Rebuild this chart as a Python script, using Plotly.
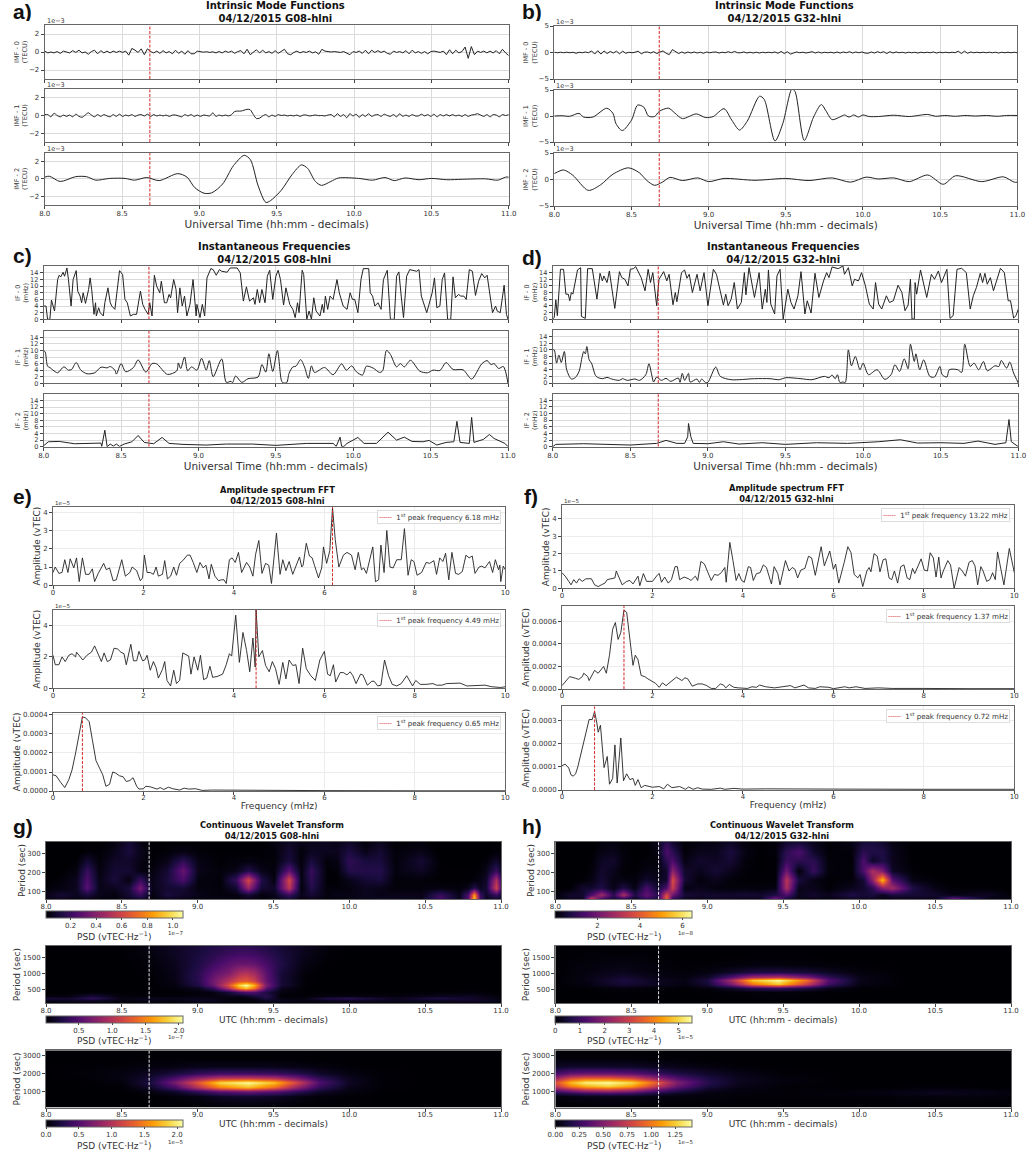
import plotly.graph_objects as go
import numpy as np

W, H = 1029, 1153
FONT = "DejaVu Sans"
EVENT_T = 8.68

# ---------- data ----------
time_ticks = [8.0, 8.5, 9.0, 9.5, 10.0, 10.5, 11.0]

# IMF values, unit 1e-3 TECU. imf0 rows: ten samples per 0.2 h.
a_imf0 = [.1,-.1,0,-.1,.05,-.15,.1,0,-.1,.15, -.05,.2,-.1,0,-.25,.05,.2,-.2,.15,-.1,
          .1,-.1,.1,-.05,.1,-.05,.1,-.35,.4,.2, -.05,.35,-.3,.35,.05,-.1,.1,-.15,.15,-.1,
          .05,-.2,.2,-.15,.1,-.25,.15,-.2,-.2,.1, .05,-.02,.03,-.05,.02,-.1,.05,-.1,.1,-.05,
          .1,-.15,.05,.15,-.2,.3,-.3,-.05,.25,-.1, .2,-.1,.05,-.15,.15,-.15,.1,.3,-.2,-.3,
          -.05,.1,-.1,.05,-.05,.1,-.1,.02,-.25,.3, .1,.05,0,.05,-.02,-.05,.05,-.1,-.3,.05,
          -.05,.1,-.15,.2,-.2,.2,-.05,.15,-.05,.1, -.15,-.25,.1,-.05,.05,-.1,.15,-.2,.2,-.1,
          .05,-.15,.05,-.2,.05,.1,0,-.05,.1,-.3, .25,-.2,.2,-.1,.05,.55,-.7,.6,-.3,.1,
          -.05,.1,-.1,.1,-.1,.15,-.2,.3,-.1,-.4]
a_imf1 = [.1,.1,-.15,.25,0,-.15,.05,-.1,.05,-.15, .15,-.1,-.2,.05,.3,.05,-.15,.1,-.1,.1,
          -.05,-.15,.1,-.1,.15,-.1,.05,-.05,.1,-.1, .05,.1,-.05,.15,-.1,.1,-.05,.05,-.05,.05,
          -.1,.05,.05,-.05,-.15,.1,-.05,.1,-.1,.05, -.1,.05,0,-.05,.3,-.1,.05,-.05,.05,-.05,
          .1,.45,.5,.5,.6,.7,.65,.1,-.35,-.3, -.05,.1,-.15,.05,-.1,.1,0,.05,-.05,.02,
          -.05,.05,-.1,.05,.05,-.05,0,.05,-.02,0, -.05,.05,.1,-.15,.2,-.1,.1,-.25,.2,-.05,
          .15,-.2,.1,-.1,.2,-.1,.05,.1,-.1,.15, 0,-.1,.1,-.15,.2,-.1,.05,-.1,.1,-.05,
          -.05,.15,-.05,.1,-.1,.15,-.15,.1,-.05,.1, -.05,.1,-.05,.05,-.1,.1,-.1,.05,.1,.2,
          .05,-.1,.1,-.15,.1,.05,-.15,.1,0,.1]
a_imf2 = [(8,.2),(8.03,.3),(8.1,-.3),(8.2,.25),(8.27,.25),(8.33,-.15),(8.42,.05),(8.52,.05),(8.58,-.15),
          (8.66,.15),(8.74,-.2),(8.86,.6),(8.92,.2),(8.97,-1.0),(9.03,-1.65),(9.08,-1.6),(9.15,-.6),(9.22,1.5),
          (9.29,2.7),(9.33,2.2),(9.38,-.8),(9.43,-2.7),(9.46,-2.5),(9.53,-1.3),(9.6,.5),(9.66,1.6),(9.7,1.2),
          (9.75,-.3),(9.79,-.75),(9.85,-.3),(9.9,.1),(10.03,.05),(10.12,-.15),(10.2,.15),(10.26,-.2),(10.33,.1),
          (10.42,-.1),(10.5,.05),(10.6,-.1),(10.7,-.05),(10.85,0),(10.93,-.15),(10.98,.2),(11,.2)]
b_imf0 = [.05,-.05,.05,-.05,.05,-.05,.05,-.15,.05,-.05, .1,-.05,.3,-.3,.35,-.3,.3,-.2,.2,-.1,
          .25,-.25,.25,-.15,.05,-.05,.05,.25,-.25,.05, .1,-.1,.15,-.2,.1,.3,-.15,-.4,.55,.2,
          -.2,.1,-.15,.1,-.1,.1,-.1,.05,-.15,.1, -.05,.05,.1,-.1,.05,-.05,.15,-.05,.2,-.05,
          -.05,.1,-.1,.05,-.1,.05,-.1,.05,-.05,.05, -.05,.1,-.15,.2,-.2,.15,-.3,-.1,.1,-.05,
          .05,-.1,.1,.15,-.1,.1,-.1,.05,-.05,.05, -.1,.1,-.1,.1,-.05,.15,-.1,.1,-.05,.1,
          -.1,-.15,.1,-.1,.15,-.05,.15,-.2,.15,-.1, .1,-.05,.05,-.1,.05,-.05,.05,-.1,.05,-.05,
          .05,-.05,.1,-.1,.05,-.05,.05,-.05,.05,-.05, .25,-.2,.25,-.15,.1,-.05,.05,-.05,.05,-.05,
          .05,-.05,.05,-.1,.05,-.05,.05,-.05,.05,-.05]
b_imf1 = [(8,0),(8.05,.05),(8.1,-.05),(8.16,.5),(8.19,-.2),(8.25,-.2),(8.34,1.5),(8.38,.5),(8.4,-1.5),(8.44,-2.8),
          (8.5,-.8),(8.54,2.1),(8.58,1.7),(8.61,0),(8.65,-.1),(8.68,.9),(8.74,1.5),(8.78,.6),(8.83,-.5),(8.92,.4),
          (8.98,-.3),(9.03,-.1),(9.1,1.4),(9.15,-.8),(9.2,-2.7),(9.25,-1.0),(9.33,3.8),(9.36,3.2),(9.43,-4.8),(9.48,-1.5),
          (9.54,5.2),(9.56,4.7),(9.62,-4.7),(9.68,-.2),(9.73,2.2),(9.76,1.0),(9.8,-.7),(9.85,-.2),(9.88,.2),(9.91,-.2),
          (9.94,.2),(9.97,-.2),(10,.2),(10.04,-.1),(10.1,-.1),(10.2,.15),(10.3,-.1),(10.42,.3),(10.47,-.05),(10.53,.1),
          (10.6,-.05),(10.66,.1),(10.73,0),(10.8,.1),(10.87,-.05),(10.93,.1),(11,.1)]
b_imf2 = [(8,1.1),(8.06,1.8),(8.12,.8),(8.22,-2.05),(8.3,-1),(8.38,1),(8.48,2.2),(8.55,1.3),(8.6,-.2),(8.65,-1.1),
          (8.7,-.5),(8.75,.4),(8.83,-.2),(8.93,.3),(9,-.4),(9.1,.2),(9.3,-.15),(9.5,.2),(9.65,-.2),(9.8,.3),(9.92,-.5),
          (10.02,.45),(10.1,.1),(10.2,.3),(10.3,-.4),(10.42,.85),(10.52,-.9),(10.6,.7),(10.77,-.4),(10.91,.5),(10.98,-.5),(11,-.5)]

# Instantaneous frequency, mHz
c_if0 = [(8,4),(8.015,4),(8.025,0),(8.04,0),(8.05,5.8),(8.06,4),(8.07,2.5),(8.09,12),(8.10,13.3),(8.11,12.8),(8.125,14.2),(8.135,13),
 (8.15,15.5),(8.16,12),(8.177,4),(8.19,12),(8.21,14.7),(8.22,8.5),(8.235,7),(8.245,5),(8.255,8),(8.27,4.8),(8.28,7),(8.29,9),(8.30,12.5),
 (8.31,9),(8.325,1.5),(8.335,5),(8.34,1),(8.355,3.5),(8.365,2),(8.385,1),(8.395,5),(8.415,9.5),(8.43,5),(8.44,4),(8.46,3),(8.475,9),(8.49,14.7),
 (8.51,13.5),(8.525,6),(8.54,5),(8.56,1),(8.58,1.5),(8.60,1.5),(8.625,8.5),(8.64,4.5),(8.655,3),(8.675,1.5),(8.685,5),(8.70,1),(8.715,13.3),
 (8.73,10),(8.75,8),(8.76,11.5),(8.78,5),(8.795,5),(8.81,7.5),(8.82,6.5),(8.84,12),(8.855,9),(8.865,2),(8.88,9.5),(8.895,4),(8.91,7),(8.925,1),
 (8.945,4.5),(8.965,12),(8.985,1),(8.99,4.5),(9.01,.5),(9.025,4.5),(9.04,1),(9.055,12.5),(9.08,15.3),(9.095,15),(9.115,13.3),(9.135,15),(9.15,14.5),
 (9.185,14.2),(9.205,15.5),(9.25,15.5),(9.27,14),(9.29,5.5),(9.31,9.8),(9.33,5.5),(9.345,6),(9.355,6.5),(9.365,4.5),(9.38,9),(9.395,5),(9.41,9),
 (9.43,5),(9.445,13),(9.46,14.8),(9.48,6),(9.50,13),(9.515,14.8),(9.53,12),(9.55,4.3),(9.565,9.5),(9.59,4.5),(9.61,3),(9.625,.5),(9.64,5),(9.65,2),
 (9.67,14.8),(9.68,13.5),(9.70,0),(9.715,2.5),(9.73,0),(9.745,6.5),(9.76,2.5),(9.785,1),(9.80,4.5),(9.81,2),(9.82,7),(9.835,3),(9.85,7),(9.87,6),
 (9.895,12),(9.91,8),(9.935,4),(9.96,3),(9.98,8),(9.995,6),(10.01,6),(10.03,2),(10.05,12),(10.065,15.3),(10.10,15.3),(10.11,8),(10.125,7),(10.14,4),
 (10.16,5),(10.18,3),(10.195,12),(10.22,14.8),(10.24,0),(10.265,0),(10.28,13),(10.295,14.3),(10.31,7),(10.325,.5),(10.345,13),(10.365,15),(10.41,14.5),
 (10.425,15),(10.44,7),(10.465,3),(10.475,2),(10.51,8),(10.525,12.5),(10.54,3.5),(10.56,4),(10.575,12),(10.59,14),(10.61,0),(10.63,0),(10.645,12.8),
 (10.66,6.5),(10.68,7.5),(10.695,7),(10.715,7),(10.73,6),(10.75,15),(10.77,14.5),(10.79,7.2),(10.81,11.5),(10.83,13.8),(10.85,12.5),(10.865,13.3),
 (10.885,7),(10.90,2),(10.92,4),(10.93,2.5),(10.95,2),(10.96,5),(10.975,10.3),(10.99,1.5),(11,0)]
c_if1 = [(8,10),(8.01,9.5),(8.025,5.2),(8.04,4.8),(8.06,4),(8.09,3.2),(8.13,5),(8.16,4),(8.18,4.2),(8.21,6.3),(8.24,4),(8.28,2.9),(8.33,3.2),(8.37,4.9),
 (8.41,4.7),(8.43,5.1),(8.46,4),(8.47,2.8),(8.50,6),(8.53,3.5),(8.58,4.8),(8.61,7.1),(8.66,3.4),(8.70,6),(8.73,5.9),(8.80,2.7),(8.86,3.8),(8.87,6.2),
 (8.885,4.5),(8.91,8),(8.93,3.8),(8.955,5),(8.99,4),(9.02,7.6),(9.05,4),(9.07,6.9),(9.095,2),(9.15,7.4),(9.18,.3),(9.21,.6),(9.22,.2),(9.24,2.2),
 (9.28,.3),(9.32,1.4),(9.385,1.9),(9.41,5.7),(9.435,3.4),(9.455,9),(9.48,3.6),(9.51,10),(9.535,1),(9.545,.2),(9.57,.2),(9.585,3),(9.61,5),(9.63,5.2),
 (9.66,7.2),(9.685,5),(9.71,1.5),(9.73,5.3),(9.75,3.3),(9.815,4.8),(9.87,2.6),(9.925,5.9),(9.955,4),(9.99,5.3),(10.02,3.5),(10.06,2.5),(10.085,5.2),
 (10.13,4.6),(10.17,3.3),(10.19,3.8),(10.215,10),(10.24,8.8),(10.28,5),(10.305,6),(10.33,5),(10.37,7),(10.43,3.7),(10.48,3.2),(10.515,4),(10.56,3.9),
 (10.60,6.3),(10.645,4.2),(10.71,4.1),(10.765,1.3),(10.83,5.9),(10.865,6.9),(10.89,5.7),(10.91,6),(10.94,4.5),(10.97,5.1),(11,0)]
c_if2 = [(8,.3),(8.03,1.5),(8.1,1.6),(8.2,.9),(8.37,1.1),(8.375,.1),(8.395,5),(8.41,0),(8.43,.8),(8.45,.2),(8.47,.8),(8.49,.1),(8.52,.8),(8.57,1.5),(8.61,3.4),
 (8.65,1.3),(8.71,.9),(8.765,2.8),(8.81,1),(8.9,.7),(9.05,.5),(9.18,.8),(9.35,.8),(9.5,.4),(9.7,1),(9.87,1),(9.89,.1),(9.915,2.9),(9.925,.1),(9.94,.1),(9.96,1),
 (10.03,2.8),(10.07,1),(10.15,1),(10.225,4.4),(10.28,2),(10.33,2.9),(10.38,1.6),(10.45,1.5),(10.49,1.9),(10.54,.5),(10.6,1.3),(10.65,1.5),(10.67,7.7),(10.69,1.3),
 (10.75,1),(10.765,8.9),(10.78,1.3),(10.84,2.2),(10.88,3.7),(10.91,2.5),(10.98,1),(11,0)]
d_if0 = [(8,0),(8.01,.5),(8.02,5.8),(8.03,1),(8.05,15),(8.07,15),(8.085,7.5),(8.10,7.5),(8.11,5.5),(8.12,8),(8.13,7.5),(8.16,14.8),(8.18,15.5),(8.185,.8),(8.21,.2),
 (8.225,15.2),(8.255,15.2),(8.285,6),(8.305,13.8),(8.32,11.5),(8.33,13),(8.35,11),(8.365,14.5),(8.40,3.2),(8.43,14.3),(8.445,12.5),(8.465,12),(8.485,10),(8.50,15),
 (8.52,15.2),(8.535,15.8),(8.57,12.5),(8.595,8.5),(8.615,15),(8.63,11),(8.645,14),(8.67,4),(8.68,9),(8.685,12),(8.715,14.3),(8.735,11.5),(8.75,13.5),(8.775,4.3),
 (8.79,8),(8.80,5.2),(8.83,14),(8.85,14.8),(8.865,12.3),(8.88,13.5),(8.90,8),(8.93,13.5),(8.95,8.5),(8.975,14),(9.0,4),(9.035,15),(9.055,13.5),(9.10,4.2),(9.115,7.5),
 (9.13,4),(9.15,6),(9.17,11),(9.19,3),(9.215,5),(9.235,14),(9.245,7.3),(9.265,15.5),(9.30,6.5),(9.33,14),(9.35,3),(9.37,9),(9.38,5),(9.39,14.8),(9.405,4.5),(9.43,1.5),
 (9.445,13),(9.465,15),(9.485,0),(9.515,9),(9.535,5),(9.555,3),(9.58,7),(9.60,14.3),(9.625,1.5),(9.64,5.5),(9.665,1.8),(9.69,13.8),(9.715,6.5),(9.745,11.5),(9.765,14),
 (9.78,12.5),(9.80,15.7),(9.84,15.2),(9.87,16),(9.88,13.5),(9.905,15.5),(9.93,10),(9.945,12),(9.97,11.5),(9.99,14),(10.015,10),(10.04,4.5),(10.065,3),(10.08,11),
 (10.10,4.5),(10.12,3),(10.15,7),(10.17,5),(10.195,5.5),(10.225,10.2),(10.25,8),(10.27,2.5),(10.29,4.2),(10.305,12),(10.315,0),(10.33,0),(10.335,11),(10.345,7.5),
 (10.37,14.8),(10.41,6.5),(10.44,13.5),(10.46,12),(10.485,14.5),(10.505,11),(10.54,15),(10.56,.2),(10.58,1),(10.605,15),(10.635,15.3),(10.665,14),(10.69,3),(10.71,7),
 (10.73,9.5),(10.755,13.8),(10.77,11),(10.785,13.8),(10.80,10.5),(10.82,12.5),(10.84,8.5),(10.885,15.3),(10.91,14),(10.935,5.5),(10.95,5.5),(10.97,.3),(10.985,1),(11,3)]
d_if1 = [(8,10),(8.01,10),(8.025,6),(8.04,8.4),(8.055,6.2),(8.075,9.5),(8.09,4),(8.12,1.2),(8.145,1.6),(8.17,3.5),(8.19,8),(8.20,9.5),(8.21,8.8),(8.22,11),(8.235,7),(8.25,6),
 (8.28,2),(8.32,1.3),(8.35,1.7),(8.38,1.2),(8.43,.8),(8.45,1.3),(8.48,.8),(8.53,1.2),(8.56,.8),(8.60,2.5),(8.62,5.8),(8.64,2),(8.65,.3),(8.67,1.8),(8.70,.8),(8.73,1.4),(8.76,.5),
 (8.81,1.5),(8.82,.2),(8.835,2.9),(8.85,.8),(8.875,2.9),(8.885,.3),(8.93,1.2),(8.945,.2),(8.96,1.2),(8.985,.1),(9.0,.2),(9.05,4.8),(9.08,2),(9.15,1),(9.3,1.3),(9.4,1.3),(9.46,1),
 (9.5,1.6),(9.6,1.3),(9.67,1),(9.75,2),(9.78,1.6),(9.80,2.4),(9.82,1.3),(9.835,2.5),(9.85,.2),(9.87,.3),(9.885,.2),(9.905,10),(9.925,5.2),(9.95,8),(9.98,4),(10.0,6),(10.035,2.5),
 (10.09,4),(10.14,1.1),(10.18,2.5),(10.205,5.5),(10.235,3.5),(10.265,7.3),(10.29,4.3),(10.305,11.7),(10.33,6.5),(10.34,8.8),(10.365,4),(10.39,7),(10.43,2),(10.46,1.8),(10.495,5),
 (10.51,2.5),(10.54,1.8),(10.555,4),(10.61,4),(10.635,3.2),(10.655,11.7),(10.69,5),(10.715,6),(10.745,4),(10.775,6.5),(10.80,3.7),(10.85,5.2),(10.875,5),(10.89,6.8),(10.925,4.5),
 (10.945,6.3),(10.97,3),(11,0)]
d_if2 = [(8,0),(8.02,.7),(8.2,.9),(8.5,.5),(8.67,1),(8.73,1.9),(8.8,1),(8.85,1),(8.87,3),(8.875,7),(8.89,3),(8.905,1),(9,.9),(9.1,1.5),(9.2,.8),(9.35,1.2),(9.5,.7),(9.7,1.2),(9.9,1),
 (10.1,1.5),(10.24,2.1),(10.35,1.1),(10.5,1.2),(10.65,1),(10.74,1.7),(10.85,.7),(10.92,1.2),(10.94,8.2),(10.955,1.5),(10.98,.8),(11,0)]

# FFT amplitude; e1, e2, f1 in 1e-5 vTEC, e3, f2, f3 in 1e-4 vTEC
e1 = [(0,.7),(.05,1),(.13,.65),(.2,.7),(.26,1.4),(.33,.7),(.38,1.45),(.46,.95),(.52,1.5),(.58,.2),(.65,1.5),(.72,.6),(.8,.6),(.87,.9),(.92,.2),(1,.65),(1.12,1.2),(1.18,.85),(1.25,.95),
 (1.33,.25),(1.4,.3),(1.52,1.4),(1.6,.5),(1.7,.7),(1.75,1),(1.85,.8),(1.93,.25),(1.98,.4),(2.02,1.65),(2.08,.7),(2.15,.7),(2.22,.6),(2.28,1),(2.33,.5),(2.42,.6),(2.47,1.35),(2.53,.35),
 (2.6,.5),(2.67,1),(2.73,.55),(2.8,1.2),(2.87,1.35),(2.97,1.65),(3.03,1.65),(3.1,1.25),(3.18,.7),(3.25,1.25),(3.32,.95),(3.38,1.1),(3.45,.35),(3.5,1.15),(3.58,.5),(3.66,.25),(3.72,.3),
 (3.78,.3),(3.83,.1),(3.9,1.4),(3.96,1.5),(4.03,1.25),(4.1,1.8),(4.17,.7),(4.28,1.25),(4.35,1),(4.42,.5),(4.48,1.7),(4.55,2.45),(4.62,.65),(4.7,1.2),(4.77,1.1),(4.83,.1),(4.94,2.85),
 (5.02,.6),(5.08,1.4),(5.15,.8),(5.22,1.3),(5.3,.6),(5.45,1.55),(5.5,1),(5.53,1.1),(5.6,2.3),(5.67,1.6),(5.73,1.5),(5.78,1.1),(5.87,.4),(5.94,.95),(5.98,2.1),(6.05,1.2),(6.12,1.9),(6.18,4.25),
 (6.24,2.5),(6.32,1),(6.42,1.65),(6.5,1.8),(6.6,1.65),(6.68,.85),(6.75,1.8),(6.82,.85),(6.87,.95),(6.93,.65),(7,1.3),(7.07,2.1),(7.13,.2),(7.2,.3),(7.25,2.2),(7.32,.7),(7.38,3),(7.45,1),
 (7.52,.95),(7.6,1.4),(7.7,1.4),(7.77,3.1),(7.85,.55),(7.92,1.4),(7.98,1.3),(8.05,.55),(8.15,.7),(8.25,1.25),(8.33,1.2),(8.42,1.35),(8.48,.6),(8.55,1.5),(8.62,1.3),(8.68,1.75),(8.75,.3),
 (8.82,1.8),(8.9,.65),(8.97,.6),(9.05,.75),(9.13,1.65),(9.2,1.5),(9.27,1.6),(9.33,.65),(9.42,1),(9.48,1.05),(9.55,.95),(9.65,1.3),(9.72,.7),(9.78,1.4),(9.85,.85),(9.88,1.1),(9.9,.2),(9.955,1.05),(10,.85)]
e2 = [(0,2.1),(.05,1.5),(.13,1.5),(.2,2),(.27,1.7),(.35,2.1),(.42,2.2),(.5,2),(.52,2.3),(.66,1.8),(.75,2.1),(.85,2.3),(.92,2.7),(1,2.1),(1.07,1.7),(1.13,2.25),(1.2,1.7),(1.27,1.8),(1.35,2.55),(1.43,2.5),
 (1.5,2.3),(1.57,2.2),(1.62,1.5),(1.72,2.8),(1.78,1.75),(1.85,1.75),(1.9,2.35),(1.98,1.75),(2.03,1.8),(2.08,2.1),(2.15,1.15),(2.22,1.7),(2.28,1.3),(2.33,.65),(2.42,1.2),(2.47,1.7),(2.52,.5),(2.6,.15),
 (2.67,1.15),(2.73,.3),(2.8,.5),(2.87,2.25),(2.95,2.1),(3,2.05),(3.05,.9),(3.12,2),(3.2,1.15),(3.26,2.1),(3.33,.55),(3.4,.65),(3.47,1.4),(3.53,.7),(3.63,.75),(3.75,.9),(3.83,1.5),(3.9,2.2),(3.95,2.05),
 (4.04,4.65),(4.12,1.65),(4.2,3.55),(4.28,2.4),(4.35,1.05),(4.42,3.2),(4.47,1.35),(4.49,5),(4.55,2),(4.63,2.4),(4.7,1.45),(4.78,1.05),(4.85,1.7),(4.92,1.25),(5,.25),(5.08,1.65),(5.15,.6),(5.22,1.8),
 (5.3,1.45),(5.37,1.5),(5.44,.3),(5.52,2.55),(5.6,1.25),(5.7,.8),(5.8,.5),(5.9,1.8),(6,2.35),(6.07,.9),(6.13,.8),(6.2,1.5),(6.25,.4),(6.35,1),(6.42,1),(6.5,.85),(6.57,1.05),(6.63,.8),(6.7,.3),(6.8,.9),
 (6.85,.85),(6.95,.2),(7.05,.45),(7.1,.45),(7.18,.15),(7.25,.2),(7.33,1.8),(7.42,.8),(7.5,.25),(7.6,.15),(7.7,.3),(7.82,.8),(7.95,.15),(8.02,.5),(8.12,.25),(8.25,.25),(8.4,.3),(8.48,.2),(8.6,.2),(8.7,.3),
 (9,.33),(9.15,.15),(9.4,.2),(9.55,.2),(9.7,.1),(9.9,.05),(10,.1)]
e3 = [(0,.85),(.07,.8),(.17,.45),(.26,.18),(.35,.6),(.42,1.1),(.5,2),(.57,2.9),(.65,3.9),(.72,3.85),(.8,3.65),(.87,2.7),(.95,1.6),(1.03,1.2),(1.1,.85),(1.17,.25),(1.25,.35),(1.32,1),(1.38,.95),(1.47,.8),
 (1.55,.75),(1.62,.5),(1.7,.55),(1.77,.7),(1.85,.25),(1.9,.1),(2,.12),(2.05,.25),(2.15,.22),(2.3,.1),(2.37,.18),(2.45,.08),(2.55,.2),(2.65,.12),(2.8,.05),(2.9,.15),(3,.1),(3.15,.12),(3.3,.03),(3.5,.05),
 (4,.05),(5,.03),(6,.02),(8,.01),(10,.01)]
f1 = [(0,.9),(.07,.7),(.15,.4),(.2,.2),(.26,.5),(.32,.3),(.38,.55),(.45,.4),(.53,.55),(.65,.55),(.72,.2),(.8,.1),(.87,.2),(.95,.3),(1,.5),(1.1,.55),(1.17,.6),(1.2,1),(1.25,.7),(1.33,.2),(1.43,.4),(1.5,.45),
 (1.57,.25),(1.68,.7),(1.72,.15),(1.8,.85),(1.87,.4),(2,.4),(2.12,.8),(2.15,.85),(2.2,.35),(2.27,.65),(2.35,.3),(2.42,.5),(2.5,1.25),(2.55,1.25),(2.6,.5),(2.7,.65),(2.8,.55),(2.85,.45),(2.95,.7),(3,.45),
 (3.07,1.55),(3.15,1.4),(3.22,.95),(3.3,.45),(3.37,.8),(3.45,.75),(3.52,.9),(3.6,1.2),(3.63,.35),(3.71,2.65),(3.78,1.6),(3.85,.45),(3.91,.85),(3.97,.45),(4.03,.35),(4.12,1.25),(4.17,1.2),(4.23,.45),
 (4.3,.85),(4.38,.9),(4.45,1.35),(4.52,1.2),(4.63,.25),(4.69,1.25),(4.77,.85),(4.82,.2),(4.94,1.6),(5.02,1),(5.09,1.2),(5.15,1.1),(5.21,.6),(5.28,1.05),(5.37,1.15),(5.45,1.85),(5.52,1.75),(5.6,.75),
 (5.73,2.4),(5.8,1.3),(5.92,2.15),(6,1.1),(6.05,1.4),(6.12,.3),(6.24,1.5),(6.32,2.4),(6.39,2.05),(6.46,.8),(6.54,.6),(6.59,.8),(6.65,.1),(6.74,1),(6.79,1.2),(6.83,.95),(6.9,2),(6.97,1.85),(7.03,.95),
 (7.1,1.65),(7.16,1.7),(7.23,.6),(7.29,.5),(7.35,1),(7.42,.3),(7.49,1.25),(7.56,1.35),(7.63,.6),(7.69,.5),(7.75,1.15),(7.8,.85),(7.94,1.7),(8.01,1.05),(8.08,1),(8.14,2.05),(8.21,1.75),(8.27,.65),(8.33,1.8),
 (8.38,.6),(8.43,1),(8.53,1.6),(8.59,1.35),(8.67,0),(8.78,1.2),(8.85,1),(8.92,.7),(9,1.5),(9.07,1.6),(9.13,1.3),(9.19,.2),(9.26,1.25),(9.31,1),(9.39,.4),(9.46,.5),(9.52,.9),(9.58,.5),(9.63,2.1),(9.68,1.4),
 (9.77,.2),(9.89,2.3),(9.94,1.6),(10,.9)]
f2 = [(0,.3),(.1,.8),(.17,1.1),(.3,.95),(.37,.85),(.45,1.1),(.48,1.4),(.57,1.1),(.6,.75),(.72,1.65),(.8,1.4),(.92,2),(.98,1.4),(1.05,3),(1.12,5.3),(1.18,5.9),(1.24,4.4),(1.3,5),(1.37,7),(1.43,6.8),(1.5,4.5),
 (1.57,2.1),(1.62,3),(1.68,2.6),(1.75,1.2),(1.83,1.1),(1.9,.9),(2,.7),(2.07,.5),(2.15,.15),(2.22,.55),(2.3,.3),(2.4,.6),(2.53,1.05),(2.65,.75),(2.72,1),(2.78,.9),(2.88,.25),(3,.45),(3.1,.45),(3.2,.3),(3.3,.05),
 (3.4,.05),(3.5,.45),(3.57,.35),(3.62,.1),(3.7,.4),(3.8,.15),(3.9,.1),(4,.05),(4.1,.05),(4.2,.2),(4.3,.15),(4.37,.35),(4.5,.2),(4.7,.1),(4.9,.2),(5.05,.3),(5.15,.1),(5.35,.35),(5.45,.1),(5.6,.05),(5.7,.2),(5.9,.15),
 (6,.03),(6.25,.2),(6.35,.1),(6.5,.2),(6.7,.05),(7,.1),(7.3,.05),(7.6,.07),(8,.05),(9,.03),(10,.03)]
f3 = [(0,1.05),(.07,1.12),(.15,.95),(.2,.65),(.25,.6),(.3,.7),(.35,1),(.42,1.6),(.48,2),(.55,2.6),(.6,3.05),(.67,3.05),(.72,3.4),(.77,2.9),(.8,2.5),(.85,2.8),(.9,1.7),(.93,.97),(1,1.45),(1.05,.25),(1.12,.5),
 (1.17,1.95),(1.22,.3),(1.3,2.25),(1.36,.4),(1.43,.7),(1.5,.45),(1.57,.5),(1.62,.2),(1.68,.45),(1.75,.1),(1.83,.2),(2,.12),(2.15,.15),(2.25,.05),(2.33,.25),(2.43,.1),(2.6,.15),(2.73,.03),(2.8,.13),(2.9,.03),(3,.1),
 (3.1,.04),(3.3,.03),(3.5,.08),(3.6,.03),(3.8,.07),(4,.04),(4.5,.05),(5,.04),(6,.04),(8,.03),(10,.03)]
peak_e = [6.18, 4.49, 0.65]
peak_f = [13.22, 1.37, 0.72]

# Wavelet power grids (coarse samples at the listed times/periods)
g1_t = [8.0,8.1,8.2,8.27,8.35,8.45,8.55,8.62,8.7,8.8,8.9,9.0,9.15,9.25,9.33,9.42,9.5,9.6,9.68,9.75,9.85,9.92,10.0,10.1,10.2,10.3,10.47,10.6,10.72,10.78,10.82,10.86,10.9,10.97,11.0]
g1_p = [60,85,120,160,210,260,310,360]
g1_z = [[.03,.05,.03,.03,.02,.02,.05,.08,.02,.05,.04,.02,.05,.02,.04,.02,.04,.1,.02,.03,.02,.02,.03,.05,.08,.08,.05,.25,.05,.3,.95,.25,.05,.08,.05],
        [.05,.1,.06,.12,.05,.03,.1,.2,.03,.12,.08,.05,.02,.03,.1,.03,.05,.2,.05,.1,.03,.05,.04,.06,.04,.05,.05,.2,.05,.25,.85,.2,.08,.2,.1],
        [.02,.03,.06,.28,.05,.06,.12,.36,.05,.1,.1,.03,.02,.1,.45,.1,.08,.55,.02,.15,.02,.02,.03,.06,.05,.02,.02,.03,.02,.05,.15,.06,.1,.6,.25],
        [0,.02,.06,.25,.04,.12,.03,.2,.04,.12,.25,.03,.02,.2,.62,.15,.03,.62,.03,.18,.01,.01,.05,.1,.12,.02,.02,.01,.01,.01,.02,.04,.08,.5,.2],
        [0,.01,.03,.2,.03,.1,.1,.03,.03,.1,.32,.05,.02,.05,.15,.05,.02,.3,.03,.2,.01,.02,.15,.15,.15,.03,.07,.01,.01,.01,.01,.02,.05,.2,.08],
        [0,0,.01,.1,.02,.08,.08,.04,.01,.05,.18,.04,.01,.02,.03,.02,.02,.12,.02,.12,.02,.04,.18,.12,.12,.02,.1,.01,0,0,0,.01,.02,.08,.03],
        [0,0,0,.02,.01,.05,.12,.05,.01,.02,.04,.02,.01,.01,.01,.01,.02,.1,.02,.07,.06,.06,.13,.05,.1,.02,.05,0,0,0,0,0,0,.02,.01],
        [0,0,0,.01,.01,.03,.1,.04,0,.01,.01,.01,0,0,0,.01,.03,.07,.05,.05,.06,.05,.08,.02,.06,.01,.02,0,0,0,0,0,0,.01,0]]
g2_t = [8,8.15,8.3,8.5,8.7,8.85,9.0,9.1,9.2,9.27,9.32,9.37,9.45,9.55,9.7,9.85,10.0,10.3,10.6,10.8,11]
g2_p = [60,170,240,300,400,540,640,760,1000,1300,1600,1860]
g2_z = [[.02,.03,.03,.02,.02,.02,.05,.05,.03,.02,.02,.02,.03,.03,.05,.03,.03,.03,.03,.03,.02],
        [.1,.12,.15,.05,.08,.05,.12,.1,.05,.03,.04,.05,.12,.1,.05,.12,.15,.1,.12,.15,.08],
        [.2,.15,.35,.06,.1,.08,.1,.08,.05,.03,.05,.1,.25,.05,.05,.25,.3,.1,.25,.15,.05],
        [.03,.05,.2,.03,.03,.03,.05,.05,.08,.08,.12,.2,.3,.02,.02,.05,.06,.05,.1,.12,.03],
        [0,.01,.02,.01,.01,.01,.03,.06,.2,.4,.5,.5,.25,.05,.01,.01,.01,.01,.02,.03,.01],
        [0,0,0,0,.01,.03,.1,.35,.95,1.55,1.75,1.45,.55,.1,.01,0,0,0,0,0,0],
        [0,0,0,0,.01,.05,.25,.6,1.2,1.85,2.05,1.7,.7,.2,.02,0,0,0,0,0,0],
        [0,0,0,0,.01,.07,.3,.65,1.0,1.25,1.3,1.15,.6,.2,.02,0,0,0,0,0,0],
        [0,0,0,0,.02,.08,.3,.55,.7,.95,1.0,.9,.55,.2,.03,0,0,0,0,0,0],
        [0,0,0,0,.03,.1,.25,.4,.55,.62,.62,.6,.45,.25,.06,.01,0,0,0,0,0],
        [0,0,0,.01,.05,.12,.22,.3,.38,.42,.42,.4,.33,.22,.09,.02,0,0,0,0,0],
        [0,0,0,.01,.06,.13,.2,.26,.3,.32,.32,.3,.26,.18,.1,.04,.01,0,0,0,0]]
g3_t = [8,8.3,8.5,8.7,8.85,9,9.15,9.33,9.5,9.65,9.8,10,10.2,10.5,11]
g3_p = [75,700,1000,1250,1500,1750,2000,2400,2800,3320]
g3_z = [[0]*15,
        [0,0,0,0,.02,.05,.12,.15,.12,.06,.02,.01,0,0,0],
        [0,0,0,.05,.15,.35,.55,.65,.55,.35,.15,.04,0,0,0],
        [0,0,.01,.15,.45,1.0,1.5,1.75,1.4,.85,.35,.08,.01,0,0],
        [0,0,.03,.25,.7,1.3,1.9,2.08,1.8,1.2,.5,.12,.01,0,0],
        [0,.01,.05,.2,.5,.85,1.1,1.15,1.05,.75,.35,.1,.01,0,0],
        [0,.02,.05,.12,.22,.35,.42,.42,.38,.3,.15,.05,.01,0,0],
        [0,.01,.02,.04,.05,.08,.08,.08,.08,.06,.04,.01,0,0,0],
        [0,0,0,.01,.01,.01,.01,.01,.01,.01,0,0,0,0,0],
        [0]*15]
h1_t = [8,8.1,8.18,8.24,8.3,8.38,8.45,8.52,8.6,8.67,8.73,8.77,8.85,8.95,9.05,9.15,9.25,9.35,9.45,9.52,9.6,9.7,9.8,9.95,10.03,10.09,10.15,10.22,10.35,10.5,10.62,10.85,11]
h1_p = [60,85,120,160,210,260,310,360]
h1_z = [[.2,.3,.3,4.2,1,.5,.5,.2,1,.5,4.5,.8,.3,.2,.4,.3,.2,.3,2.5,.5,.2,.2,.1,.3,.3,.3,.2,.1,.2,.2,2.5,.2,.1],
        [.1,.5,.5,1.5,2.8,1,3,.8,1.8,1,3.8,2,.6,.5,.5,.5,.6,.5,.8,1.5,.3,.5,.3,.8,.6,.7,.3,.7,.6,.5,.2,.4,.05],
        [0,.05,.5,.5,.8,.2,.8,.2,1.4,.5,1.5,3.5,.2,.3,.15,.1,.1,.1,.2,3,.3,.3,.05,.3,.5,1.0,2.5,2.8,.8,.2,.05,.05,0],
        [0,0,.05,.2,.6,.2,.2,.1,.5,.3,.5,3.8,.6,.1,.3,.1,.05,.05,.05,3.2,.7,.2,.05,.1,.6,2.5,5.5,1.6,.2,.05,0,0,0],
        [0,0,0,.1,.5,.3,.05,.05,.2,.2,.5,2.5,.5,.3,.6,.3,.05,.02,.05,2,.05,1.2,.1,.05,1.5,3,2.2,.4,.05,0,0,0,0],
        [0,0,0,.05,.4,.5,.1,.02,.1,.1,1,1.5,.2,.5,.4,.6,.1,.02,.05,1.2,1,1,.1,.05,1.5,.4,.8,.3,.02,0,0,0,0],
        [0,0,0,.02,.2,.3,.1,.01,.02,.2,1.5,1,.1,.3,.3,.7,.2,.02,.1,1,1.5,.5,.05,.1,1,.8,.8,.3,.01,0,0,0,0],
        [0,0,0,.01,.1,.15,.05,.01,.02,.3,1,.5,.05,.15,.2,.4,.1,.01,.1,.5,.6,.3,.03,.2,.6,.7,.5,.2,.01,0,0,0,0]]
h2_t = [8,8.2,8.45,8.65,8.85,9,9.15,9.3,9.47,9.65,9.8,10,10.3,11]
h2_p = [60,400,550,680,780,900,1050,1250,1500,1860]
h2_z = [[0]*14,
        [0,0,.02,.01,0,.01,.03,.05,.06,.04,.01,0,0,0],
        [0,.02,.1,.05,.02,.1,.35,.8,1,.65,.2,.03,0,0],
        [0,.1,.5,.3,.1,.5,1.8,3.8,4.8,3,1.1,.15,0,0],
        [0,.15,.6,.3,.15,.6,2.4,4.8,5.5,3.8,1.4,.2,0,0],
        [0,.15,.45,.2,.1,.35,1.3,2.4,2.7,1.9,.9,.2,0,0],
        [0,.12,.25,.1,.05,.12,.35,.6,.65,.5,.3,.08,0,0],
        [0,.08,.15,.06,.02,.03,.06,.1,.1,.08,.04,.01,0,0],
        [0,.04,.05,.03,0,0,0,.01,.01,.01,0,0,0,0],
        [0]*14]
h3_t = [8,8.1,8.2,8.35,8.5,8.65,8.8,9,9.2,9.5,9.9,10.2,10.5,10.8,11]
h3_p = [75,700,900,1100,1300,1500,1750,2000,2400,2800,3320]
h3_z = [[0]*15,
        [.02,.03,.04,.05,.04,.03,.02,.02,.01,.01,.01,.01,.02,.02,.01],
        [.15,.2,.25,.28,.25,.15,.08,.03,.02,.01,.02,.04,.07,.05,.03],
        [.45,.6,.75,.8,.7,.45,.25,.08,.03,.01,.01,.02,.04,.03,.01],
        [.7,1,1.15,1.25,1.1,.75,.4,.15,.05,.01,0,0,.01,0,0],
        [.85,1.2,1.38,1.43,1.3,.95,.5,.2,.07,.02,0,0,0,0,0],
        [.6,.85,.95,.95,.85,.6,.35,.17,.07,.02,0,0,0,0,0],
        [.3,.4,.42,.42,.38,.28,.17,.1,.05,.01,0,0,0,0,0],
        [.08,.1,.1,.1,.09,.07,.05,.03,.01,0,0,0,0,0,0],
        [.02,.02,.02,.02,.02,.01,.01,0,0,0,0,0,0,0,0],
        [0]*15]
for grid_t, grid_z in [(g1_t,g1_z),(g2_t,g2_z),(g3_t,g3_z),(h1_t,h1_z),(h2_t,h2_z),(h3_t,h3_z)]:
    assert all(len(r) == len(grid_t) for r in grid_z)

# ---------- figure helpers ----------
fig = go.Figure()
layout = dict(width=W, height=H, margin=dict(l=0, r=0, t=0, b=0, autoexpand=False), paper_bgcolor="white", plot_bgcolor="white",
              font=dict(family=FONT, size=8, color="#333"), showlegend=False, annotations=[])
TXT = "#333"
SPINE = "#666"
GRID = "#dadada"
GRID_LIGHT = "#ececec"
axis_n = [0]

def px(x): return x / W
def py(y): return 1 - y / H

def note(text, x, y, size, bold=False, family=FONT, xanchor="center", yanchor="middle", angle=0, color="#111", **kw):
    if bold:
        text = f"<b>{text}</b>"
    layout["annotations"].append(dict(text=text, x=px(x), y=py(y), xref="paper", yref="paper", showarrow=False,
        xanchor=xanchor, yanchor=yanchor, textangle=angle, font=dict(family=family, size=size, color=color), **kw))

def add_axes(box, xrange, xticks, yrange, yticks, xlabels=True, xtitle=None, ytitle=None, ysize=7, ystand=3,
             xfmt=".1f", yfmt=None, xtsize=9, grid=True, xstand=2, ticksize=7, yticksize=7, gridcolor=GRID, lift=-1):
    axis_n[0] += 1
    n = axis_n[0]
    sfx = "" if n == 1 else str(n)
    x0, x1, y0, y1 = box
    layout["xaxis" + sfx] = dict(domain=[px(x0), px(x1)], range=xrange, anchor="y" + sfx, tickmode="array", tickvals=xticks,
        ticktext=[format(v, xfmt) for v in xticks] if xlabels else None, showticklabels=xlabels, ticklabelstandoff=lift,
        ticks="outside", ticklen=3, tickwidth=1, tickcolor="#444", showline=True, mirror=True, linecolor=SPINE, linewidth=1,
        showgrid=grid, gridcolor=gridcolor, gridwidth=1, zeroline=False, tickfont=dict(size=ticksize, color=TXT),
        title=dict(text=xtitle, font=dict(size=xtsize, color=TXT), standoff=xstand) if xtitle else None)
    layout["yaxis" + sfx] = dict(domain=[py(y1), py(y0)], range=yrange, anchor="x" + sfx, tickmode="array", tickvals=yticks,
        ticktext=[(format(v, yfmt) if yfmt else str(v)).replace("-", "\u2212") for v in yticks],
        ticks="outside", ticklen=3, tickwidth=1, tickcolor="#444", showline=True, mirror=True, linecolor=SPINE, linewidth=1,
        showgrid=grid, gridcolor=gridcolor, gridwidth=1, zeroline=False, tickfont=dict(size=yticksize, color=TXT),
        title=dict(text=ytitle, font=dict(size=ysize, color=TXT), standoff=ystand) if ytitle else None)
    return "x" + sfx, "y" + sfx

def pts(series):
    return [p[0] for p in series], [p[1] for p in series]

def draw(xa, ya, xs, ys, spline=False, width=1):
    fig.add_trace(go.Scatter(x=xs, y=ys, xaxis=xa, yaxis=ya, mode="lines", showlegend=False, hoverinfo="skip",
        line=dict(color="#222", width=width, shape="spline" if spline else "linear", smoothing=0.8)))

def event_line(xa, ya, yrange, color="#d62728"):
    fig.add_trace(go.Scatter(x=[EVENT_T, EVENT_T], y=yrange, xaxis=xa, yaxis=ya, mode="lines", showlegend=False,
        hoverinfo="skip", line=dict(color=color, width=1, dash="3px,1.5px")))

def regular(values):
    return list(np.linspace(8, 11, len(values))), values

# ---------- IMF panels ----------
imf_boxes_a = [(44.7,508.7,25,79),(44.7,508.7,89,142),(44.7,508.7,152.7,205)]
imf_boxes_b = [(554.3,1017.3,26,79),(554.3,1017.3,90,142),(554.3,1017.3,153,206)]
for panel, boxes, series, lim, yticks in [
    ("a", imf_boxes_a, [regular(a_imf0), regular(a_imf1), pts(a_imf2)], 3, [-2,0,2]),
    ("b", imf_boxes_b, [regular(b_imf0), pts(b_imf1), pts(b_imf2)], 5, [-5,0,5])]:
    for i, (box, (xs, ys)) in enumerate(zip(boxes, series)):
        xa, ya = add_axes(box, [8,11], time_ticks, [-lim,lim], yticks, xlabels=(i==2),
            xtitle="Universal Time (hh:mm - decimals)" if i==2 else None, xtsize=10.5, xstand=0,
            ytitle=f"IMF - {i}<br>(TECU)", ysize=6.5, ystand=0)
        draw(xa, ya, xs, ys, spline=(i>0))
        event_line(xa, ya, [-lim,lim])
        note("1e\u22123", box[0], box[2]-4, 6.5, xanchor="left", color=TXT)

# ---------- IF panels ----------
if_boxes_c = [(43.7,508,266.3,319.3),(43.7,508,330.7,383.3),(43.7,508,394,446.7)]
if_boxes_d = [(552.7,1018.3,266,319),(552.7,1018.3,330,383),(552.7,1018.3,393.7,446.7)]
if_ticks = [0,2,4,6,8,10,12,14]
for boxes, series in [(if_boxes_c,[c_if0,c_if1,c_if2]),(if_boxes_d,[d_if0,d_if1,d_if2])]:
    for i,(box,s) in enumerate(zip(boxes,series)):
        xa, ya = add_axes(box, [8,11], time_ticks, [0,16], if_ticks, xlabels=(i==2),
            xtitle="Universal Time (hh:mm - decimals)" if i==2 else None, xtsize=10.5, xstand=0,
            ytitle=f"IF - {i}<br>(mHz)", ysize=6.5, ystand=0, yticksize=6.5)
        xs, ys = pts(s)
        draw(xa, ya, xs, ys, spline=(i==1))
        event_line(xa, ya, [0,16])

# ---------- FFT panels ----------
freq_ticks = [0,2,4,6,8,10]
fft_e = [((53,505.3,506.7,585.3), e1, 1, [0,4.3], [0,1,2,3,4], None),
         ((53,505.3,609.7,688.3), e2, 1, [0,5.0], [0,2,4], None),
         ((53,505.3,712.7,791), e3, 1e-4, [0,4.12e-4], [0,1e-4,2e-4,3e-4,4e-4], ".4f")]
fft_f = [((562,1014.3,505.3,588.3), f1, 1, [0,4.79], [0,1,2,3,4], None),
         ((562,1014.3,605.7,689), f2, 1e-4, [0,7.39e-4], [0,2e-4,4e-4,6e-4], ".4f"),
         ((562,1014.3,706.3,790), f3, 1e-4, [0,3.62e-4], [0,1e-4,2e-4,3e-4], ".4f")]
legend_tops = {"e":[516.5,619.5,722.5], "f":[515,615.5,716]}
for name, panel, peaks in [("e",fft_e,peak_e),("f",fft_f,peak_f)]:
    for i,(box,s,scale,yr,yt,yf) in enumerate(panel):
        xa, ya = add_axes(box, [0,10], freq_ticks, yr, yt, xfmt="d", gridcolor=GRID_LIGHT, lift=-3,
            xtitle="Frequency (mHz)" if i==2 else None, xtsize=9, xstand=1,
            ytitle="Amplitude (vTEC)", ysize=9, ystand=0, yfmt=yf)
        xs, ys = pts(s)
        ys = [v*scale for v in ys]
        draw(xa, ya, xs, ys, width=0.9)
        label = f"1<sup>st</sup> peak frequency {peaks[i]:.2f} mHz"
        fig.add_trace(go.Scatter(x=[peaks[i],peaks[i]], y=yr, xaxis=xa, yaxis=ya, mode="lines", showlegend=False,
            name=label, hoverinfo="skip", line=dict(color="#d62728", width=1, dash="3px,1.5px")))
        note(f'<span style="color:#d62728">\u254c\u254c\u254c</span>  {label}', box[1]-4, legend_tops[name][i], 7.1, color=TXT,
             xanchor="right", bgcolor="rgba(255,255,255,0.85)", bordercolor="#ddd", borderwidth=1, borderpad=1)
        if scale == 1:
            note("1e\u22125", box[0], box[2]-4, 5.5, xanchor="left", color=TXT)

# ---------- wavelet panels ----------
g_rows = [(841.7,899.3),(946,1003.3),(1050.3,1107.7)]
cb_y = [911.3,1015.7,1120]
wave = [(46,501,182.7,[(g1_t,g1_p,g1_z,.008,1.08,.2,.2,".1f","1e\u22127",[60,360],[100,200,300]),
                       (g2_t,g2_p,g2_z,.008,2.06,.5,.5,".1f","1e\u22127",[62,1854],[500,1000,1500]),
                       (g3_t,g3_p,g3_z,0,2.09,0,.5,".1f","1e\u22125",[75,3320],[1000,2000,3000])]),
        (555.3,1011,692.3,[(h1_t,h1_p,h1_z,.02,6.46,2,2,"d","1e\u22128",[60,360],[100,200,300]),
                           (h2_t,h2_p,h2_z,0,5.55,0,1,"d","1e\u22125",[62,1854],[500,1000,1500]),
                           (h3_t,h3_p,h3_z,0,1.43,0,.25,".2f","1e\u22125",[75,3320],[1000,2000,3000])])]
for x0, x1, cbx, panels in wave:
    for i,(t,p,z,zmin,zmax,tick0,dtick,fmt,exp,yr,yt) in enumerate(panels):
        box = (x0,x1,g_rows[i][0],g_rows[i][1])
        xa, ya = add_axes(box, [8,11], time_ticks, yr, yt, grid=False, lift=-3,
            xtitle="UTC (hh:mm - decimals)" if i>0 else None, xtsize=9, xstand=1,
            ytitle="Period (sec)", ysize=9, ystand=0)
        fig.add_trace(go.Heatmap(x=t, y=p, z=z, xaxis=xa, yaxis=ya, colorscale="Inferno", zmin=zmin, zmax=zmax,
            zsmooth="best", hoverinfo="skip", showscale=True,
            colorbar=dict(orientation="h", x=px(x0), y=py(cb_y[i]), xanchor="left", yanchor="top", lenmode="pixels",
                len=cbx-x0, thicknessmode="pixels", thickness=7, xpad=0, ypad=0, outlinecolor=SPINE, outlinewidth=1,
                tick0=tick0, dtick=dtick, tickformat=fmt, ticks="outside", ticklen=2, tickfont=dict(size=7, color=TXT))))
        event_line(xa, ya, yr, color="#e8e8e8")
        note("PSD (vTEC\u00b7Hz<sup>\u22121</sup>)", (x0+cbx)/2, cb_y[i]+24.5, 9, color=TXT)
        note(exp, cbx-7, cb_y[i]+21.5, 5.5, color=TXT)

# ---------- titles and panel letters ----------
for text, x, y, s in [("Intrinsic Mode Functions<br>04/12/2015 G08-hlni",275,12,10),
                      ("Intrinsic Mode Functions<br>04/12/2015 G32-hlni",784,12,10),
                      ("Instantaneous Frequencies<br>04/12/2015 G08-hlni",274,253,10),
                      ("Instantaneous Frequencies<br>04/12/2015 G32-hlni",783.5,252.5,10),
                      ("Amplitude spectrum FFT<br>04/12/2015 G08-hlni",277.5,495,8.3),
                      ("Amplitude spectrum FFT<br>04/12/2015 G32-hlni",786.5,493,8.3),
                      ("Continuous Wavelet Transform<br>04/12/2015 G08-hlni",272,830,8.3),
                      ("Continuous Wavelet Transform<br>04/12/2015 G32-hlni",781.5,830,8.3)]:
    note(text, x, y, s, bold=True)
for text, x, y, h in [("a)",11,10.5,20),("b)",520,10.5,20),("c)",11,255,28),("d)",520,257,28),("e)",11,496,28),("f)",522,496,28),("g)",11,826,28),("h)",520,826,28)]:
    note(text, x, y, 21, bold=True, family="Liberation Sans", xanchor="left", height=h)

fig.update_layout(**layout)
fig.write_html("out.html", config={"displayModeBar": False},
               post_script="document.body.style.margin='0';document.documentElement.style.overflow='hidden';")
